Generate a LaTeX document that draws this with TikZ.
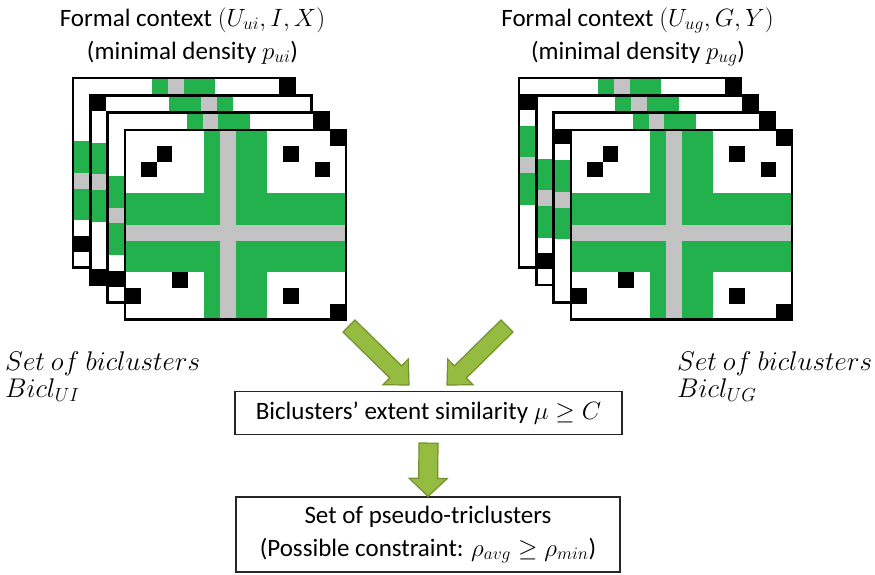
\RequirePackage{fix-cm}
\documentclass[tikz,border=0pt]{standalone}
\usepackage{fontspec}
\setmainfont{Carlito}
\usetikzlibrary{calc}
\definecolor{mgreen}{RGB}{34,177,76}
\definecolor{mgray}{RGB}{195,195,195}
\definecolor{agreen}{RGB}{150,187,65}
\definecolor{aedge}{RGB}{115,145,45}
\newcommand{\cs}{15.8}
% matrix: x, y, green col from, green col to, gray col, green row from, green row to, gray row, black cells
\newcommand{\mtx}[9]{%
  \begin{scope}[shift={(#1,#2)}]
    \fill[white] (0,0) rectangle (14*\cs,12*\cs);
    \fill[mgreen] (#3*\cs,0) rectangle ({(#4+1)*\cs},12*\cs);
    \fill[mgreen] (0,#6*\cs) rectangle (14*\cs,{(#7+1)*\cs});
    \fill[mgray] (#5*\cs,0) rectangle ({(#5+1)*\cs},12*\cs);
    \fill[mgray] (0,#8*\cs) rectangle (14*\cs,{(#8+1)*\cs});
    \foreach \c/\r in {#9} {\fill[black] (\c*\cs,\r*\cs) rectangle ++(\cs,\cs);}
    \draw[frameline] (0,0) rectangle (14*\cs,12*\cs);
  \end{scope}}
% block arrow: from, to, shaft half width, head half width, head length
\newcommand{\fatarrow}[5]{%
  \coordinate (fah) at ($(#2)!#5!(#1)$);
  \filldraw[blockarrow]
    ($(#1)!#3!90:(#2)$) -- ($(fah)!#3!-90:(#1)$) -- ($(fah)!#4!-90:(#1)$) --
    (#2) -- ($(fah)!#4!90:(#1)$) -- ($(fah)!#3!90:(#1)$) -- ($(#1)!#3!-90:(#2)$) -- cycle;}
\tikzset{
  frameline/.style={line width=2.5pt, black},
  blockarrow/.style={fill=agreen, draw=aedge, line width=1.2pt, line join=miter},
  txt/.style={font=\fontsize{25}{33}\selectfont, inner sep=0pt},
  sidetxt/.style={font=\fontsize{27}{33}\selectfont, inner sep=0pt},
  box/.style={txt, draw=black!85, line width=1.2pt, fill=white}
}
\begin{document}
\begin{tikzpicture}[x=1pt,y=-1pt]
\useasboundingbox (0,0) rectangle (875,574);
\fill[white] (0,0) rectangle (875,574);

% left stack
\mtx{73.1}{78.1}{5}{8}{6}{4}{8}{6}{2/1,1/2,10/1,12/2,13/0,3/9,0/10,10/10,13/11}
\mtx{90.4}{95.4}{5}{8}{7}{3}{7}{5}{0/0,0/11}
\mtx{107.7}{112.7}{5}{8}{6}{4}{8}{6}{2/1,1/2,10/1,12/2,13/0,3/9,0/10,10/10,13/11}
\mtx{125}{130}{5}{8}{6}{4}{8}{6}{2/1,1/2,10/1,12/2,13/0,3/9,0/10,10/10,13/11}

% right stack
\mtx{519.1}{78.1}{5}{8}{6}{3}{7}{5}{0/1,13/0}
\mtx{536.4}{95.4}{5}{8}{6}{4}{8}{6}{2/1,1/2,10/1,12/2,13/0,3/9,0/10,10/10,13/11}
\mtx{553.7}{112.7}{5}{8}{6}{3}{7}{5}{0/1,13/0}
\mtx{571}{130}{5}{8}{6}{4}{8}{6}{2/1,1/2,10/1,12/2,13/0,3/9,0/10,10/10,13/11}

% titles
\node[txt, anchor=base] (tl1) at (192.5,26) {Formal context $(U_{ui},I,X)$};
\node[txt, anchor=base] (tl2) at (192.5,59) {(minimal density $p_{ui}$)};
\node[txt, anchor=base] (tr1) at (637.5,26) {Formal context $\left(U_{ug},G,Y\right)$};
\node[txt, anchor=base] (tr2) at (638,59) {(minimal density $p_{ug}$)};

% side labels
\node[sidetxt, anchor=base west] (sl1) at (5,370) {$Set\ of\ biclusters$};
\node[sidetxt, anchor=base west] (sl2) at (5,397) {$Bicl_{UI}$};
\node[sidetxt, anchor=base west] (sr1) at (677,370) {$Set\ of\ biclusters$};
\node[sidetxt, anchor=base west] (sr2) at (677,397) {$Bicl_{UG}$};

% boxes
\node[box, minimum width=387pt, minimum height=43pt] (b1) at (428.5,413) {Biclusters’ extent similarity $\mu\geq C$};
\node[box, minimum width=384pt, minimum height=75pt, align=center] (b2) at (428,534.5) {Set of pseudo-triclusters\\(Possible constraint: $\rho_{avg}\geq\rho_{min}$)};

% arrows
\coordinate (a1s) at (349,326);
\coordinate (a1e) at (409,385);
\coordinate (a2s) at (507,326);
\coordinate (a2e) at (447,385);
\coordinate (a3s) at ($(b1.south)+(0,8)$);
\coordinate (a3e) at (b2.north);
\fatarrow{a1s}{a1e}{8.5pt}{18pt}{18.7pt}
\fatarrow{a2s}{a2e}{8.5pt}{18pt}{18.7pt}
\fatarrow{a3s}{a3e}{9.5pt}{19pt}{18pt}
\end{tikzpicture}
\end{document}
